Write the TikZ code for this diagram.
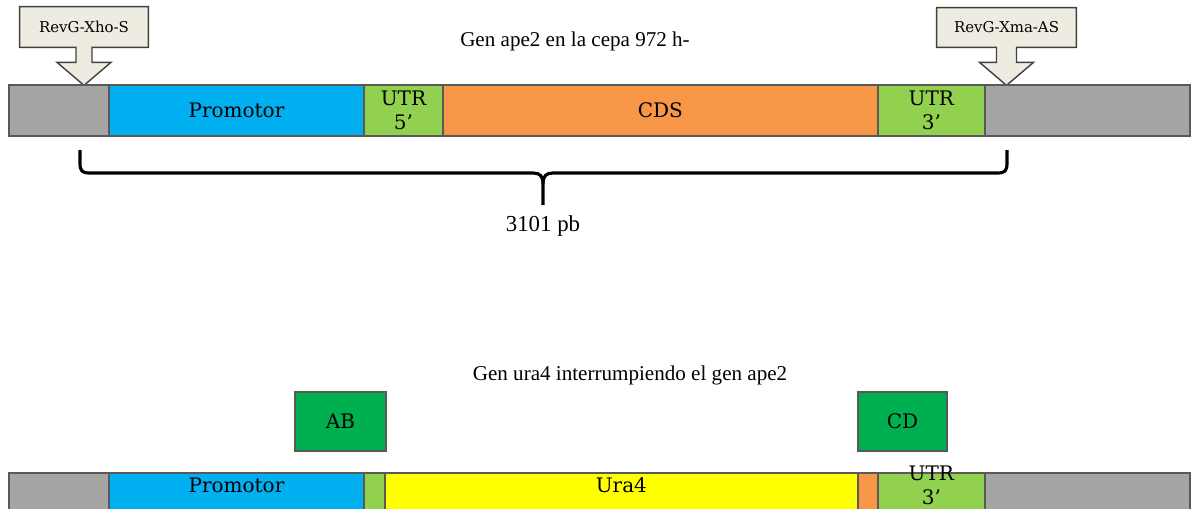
\documentclass[tikz,border=0pt]{standalone}
\usepackage{fontspec}
\setmainfont{Liberation Serif}
\newfontfamily\segfont{DejaVu Serif}
\usepackage{tikz}
\usetikzlibrary{positioning,calc,backgrounds}

\definecolor{edge}{HTML}{595959}
\definecolor{flank}{HTML}{A5A5A5}
\definecolor{promblue}{HTML}{00B0F0}
\definecolor{utrgreen}{HTML}{92D050}
\definecolor{cdsorange}{HTML}{F79646}
\definecolor{urayellow}{HTML}{FFFF00}
\definecolor{primgreen}{HTML}{00B050}
\definecolor{cream}{HTML}{EEECE1}

\begin{document}
\begin{tikzpicture}[
    x=0.02cm, y=0.02cm,
    seg/.style={rectangle, draw=edge, line width=1.1pt, outer sep=0pt, inner sep=0pt,
        minimum height=1.02cm, align=center, font=\segfont\fontsize{11.4}{13.6}\selectfont},
    lbl/.style={font=\segfont\fontsize{11.4}{13.6}\selectfont, align=center, yshift=0.27cm},
    primer/.style={rectangle, draw=edge, line width=1.1pt, fill=primgreen, minimum height=1.18cm,
        font=\segfont\fontsize{11.4}{14}\selectfont},
    callout/.style={draw=black!75, line width=0.8pt, fill=cream},
    oligo/.style={font=\segfont\fontsize{8.5}{10}\selectfont, inner sep=0pt},
    title/.style={font=\fontsize{12}{14}\selectfont}
]
    \useasboundingbox (0,0) rectangle (1198,-508);

    % Gene ape2, wild type
    \node[seg, fill=flank, minimum width=2cm, anchor=north west] (g1) at (9,-85) {};
    \node[seg, fill=promblue, minimum width=5.1cm, right=0pt of g1] (prom) {Promotor};
    \node[seg, fill=utrgreen, minimum width=1.58cm, right=0pt of prom] (utr5) {UTR\\5’};
    \node[seg, fill=cdsorange, minimum width=8.7cm, right=0pt of utr5] (cds) {CDS};
    \node[seg, fill=utrgreen, minimum width=2.14cm, right=0pt of cds] (utr3) {UTR\\3’};
    \node[seg, fill=flank, minimum width=4.1cm, right=0pt of utr3] (g2) {};

    \node[title] (t1) at (575,-41) {Gen ape2 en la cepa 972 h-};

    % Primers
    \node[oligo, minimum width=2.56cm, minimum height=0.8cm] (xho) at (84,-27) {RevG-Xho-S};
    \node[oligo, minimum width=2.78cm, minimum height=0.78cm] (xma) at (1006.5,-27.5) {RevG-Xma-AS};
    \begin{pgfonlayer}{background}
    \draw[callout] (xho.south west) -- (xho.north west) -- (xho.north east) -- (xho.south east)
        -- ($(xho.south)+(8,0)$) -- ++(0,-15) -- ++(19,0) -- ($(xho.south)+(0,-38)$)
        -- ($(xho.south)+(-27,-15)$) -- ++(19,0) -- ++(0,15) -- cycle;
    \draw[callout] (xma.south west) -- (xma.north west) -- (xma.north east) -- (xma.south east)
        -- ($(xma.south)+(10,0)$) -- ++(0,-15) -- ++(17,0) -- ($(xma.south)+(0,-38)$)
        -- ($(xma.south)+(-27,-15)$) -- ++(17,0) -- ++(0,15) -- cycle;
    \end{pgfonlayer}

    % Size of the fragment
    \coordinate (bl) at (80,-150);
    \coordinate (br) at (1007,-150);
    \draw[line width=1.8pt, line join=round] (bl) -- (80,-163) .. controls (80,-171) and (82,-173) .. (90,-173)
        -- (533,-173) .. controls (540,-173) and (543,-176) .. (543,-184) -- (543,-205);
    \draw[line width=1.8pt, line join=round] (543,-184) .. controls (543,-176) and (546,-173) .. (553,-173)
        -- (997,-173) .. controls (1005,-173) and (1007,-171) .. (1007,-163) -- (br);
    \node[font=\fontsize{13}{15}\selectfont] (size) at (543,-226) {3101 pb};

    % Gene ura4 inserted in ape2
    \node[title] (t2) at (630,-375) {Gen ura4 interrumpiendo el gen ape2};

    \node[primer, minimum width=1.82cm] (ab) at (340.5,-421.5) {AB};
    \node[primer, minimum width=1.78cm] (cd) at (902.5,-421.5) {CD};

    \node[seg, fill=flank, minimum width=2cm, anchor=north west] (h1) at (9,-473) {};
    \node[seg, fill=promblue, minimum width=5.1cm, right=0pt of h1,
        label={[lbl]center:Promotor}] (hprom) {};
    \node[seg, fill=utrgreen, minimum width=0.42cm, right=0pt of hprom] (hutr5) {};
    \node[seg, fill=urayellow, minimum width=9.46cm, right=0pt of hutr5,
        label={[lbl]center:Ura4}] (ura) {};
    \node[seg, fill=cdsorange, minimum width=0.4cm, right=0pt of ura] (hcds) {};
    \node[seg, fill=utrgreen, minimum width=2.14cm, right=0pt of hcds,
        label={[lbl]center:UTR\\3’}] (hutr3) {};
    \node[seg, fill=flank, minimum width=4.1cm, right=0pt of hutr3] (h2) {};
\end{tikzpicture}
\end{document}
